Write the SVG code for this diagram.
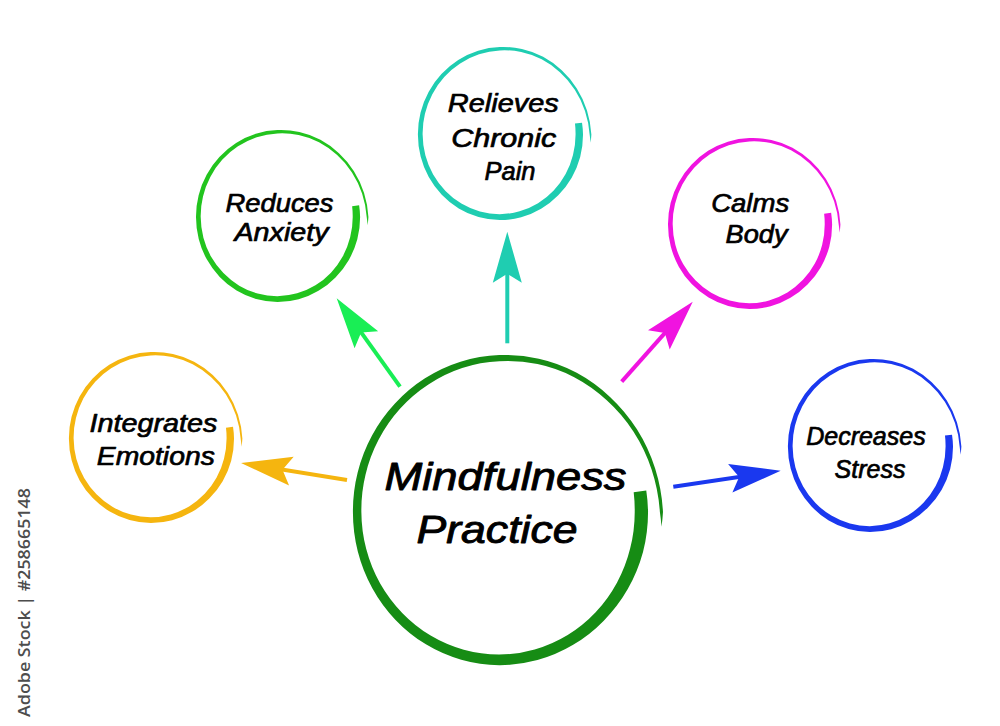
<svg xmlns="http://www.w3.org/2000/svg" width="1000" height="726" viewBox="0 0 1000 726">
<style>
.t{font-family:"Liberation Sans",Arial,sans-serif;font-style:italic;fill:#000;stroke:#000;stroke-width:0.7px;stroke-linejoin:round;}
.s{font-size:26.5px;}
.c{font-size:38px;stroke-width:0.9px;}
.wm{font-family:"Open Sans","DejaVu Sans",sans-serif;font-size:16px;font-weight:600;fill:#4d4d4d;}
.ln{fill:none;stroke-width:4;stroke-linecap:butt;}
</style>
<defs>
<path id="ring" d="M99.3,-13.9 A100.3,100.3 0 0 1 100.5,0 A100.5,100.5 0 0 1 97.1,26 A100.4,100.4 0 0 1 86.8,50.1 A100,100 0 0 1 70.6,70.6 A99.8,99.8 0 0 1 49.9,86.3 A99.6,99.6 0 0 1 25.8,96.2 A99.5,99.5 0 0 1 0,99.5 A99.4,99.4 0 0 1 -25.7,96 A99.3,99.3 0 0 1 -49.6,86 A99.2,99.2 0 0 1 -70.1,70.1 A99.1,99.1 0 0 1 -85.8,49.5 A99,99 0 0 1 -95.6,25.6 A98.9,98.9 0 0 1 -98.9,0 A99,99 0 0 1 -95.7,-25.7 A99.2,99.2 0 0 1 -86,-49.7 A99.5,99.5 0 0 1 -70.5,-70.5 A100,100 0 0 1 -50.2,-86.9 A100.7,100.7 0 0 1 -26.2,-97.7 A101.5,101.5 0 0 1 0,-102 A102.5,102.5 0 0 1 26.7,-99.6 A103.8,103.8 0 0 1 52.3,-90.5 A105.2,105.2 0 0 1 74.8,-74.8 A106.6,106.6 0 0 1 93,-53.7 A108.2,108.2 0 0 1 105.3,-28.2 A109.8,109.8 0 0 1 110.6,0 A110.5,110.5 0 0 1 109.6,9.6 A109,109 0 0 0 108.5,0 A107.5,107.5 0 0 0 102.9,-27.6 A105.6,105.6 0 0 0 90.6,-52.3 A103.7,103.7 0 0 0 72.6,-72.6 A101.9,101.9 0 0 0 50.6,-87.6 A100.3,100.3 0 0 0 25.8,-96.1 A98.7,98.7 0 0 0 0,-98 A97.4,97.4 0 0 0 -25.1,-93.6 A96.3,96.3 0 0 0 -47.9,-82.9 A95.3,95.3 0 0 0 -67.1,-67.1 A94.5,94.5 0 0 0 -81.5,-47.1 A93.8,93.8 0 0 0 -90.4,-24.2 A93.4,93.4 0 0 0 -93.2,0 A93.1,93.1 0 0 0 -89.9,24.1 A93,93 0 0 0 -80.5,46.5 A92.9,92.9 0 0 0 -65.6,65.6 A92.8,92.8 0 0 0 -46.4,80.3 A92.7,92.7 0 0 0 -24,89.5 A92.6,92.6 0 0 0 0,92.6 A92.5,92.5 0 0 0 23.9,89.3 A92.4,92.4 0 0 0 46.2,79.9 A92.2,92.2 0 0 0 65.1,65.1 A92,92 0 0 0 79.5,45.9 A91.7,91.7 0 0 0 88.4,23.7 A91.5,91.5 0 0 0 91.5,0 A91.6,91.6 0 0 0 90.8,-12.8 Z"/>
<marker id="hOr" markerUnits="userSpaceOnUse" viewBox="-45 -16 60 32" markerWidth="60" markerHeight="32" refX="0" refY="0" orient="auto" overflow="visible"><path d="M10,0 L-41,-14.5 L-32,0 L-41,14.5 Z" fill="#F5B50F"/></marker>
<marker id="hGr" markerUnits="userSpaceOnUse" viewBox="-45 -16 60 32" markerWidth="60" markerHeight="32" refX="0" refY="0" orient="auto" overflow="visible"><path d="M10,0 L-41,-14.5 L-32,0 L-41,14.5 Z" fill="#19EE55"/></marker>
<marker id="hTe" markerUnits="userSpaceOnUse" viewBox="-45 -16 60 32" markerWidth="60" markerHeight="32" refX="0" refY="0" orient="auto" overflow="visible"><path d="M10,0 L-41,-14.5 L-32,0 L-41,14.5 Z" fill="#1FCDB1"/></marker>
<marker id="hMa" markerUnits="userSpaceOnUse" viewBox="-45 -16 60 32" markerWidth="60" markerHeight="32" refX="0" refY="0" orient="auto" overflow="visible"><path d="M10,0 L-41,-14.5 L-32,0 L-41,14.5 Z" fill="#F013E0"/></marker>
<marker id="hBl" markerUnits="userSpaceOnUse" viewBox="-45 -16 60 32" markerWidth="60" markerHeight="32" refX="0" refY="0" orient="auto" overflow="visible"><path d="M10,0 L-41,-14.5 L-32,0 L-41,14.5 Z" fill="#1A38EF"/></marker>
</defs>
<rect width="1000" height="726" fill="#fff"/>

<g id="connectors">
<line class="ln" stroke="#F5B50F" x1="347" y1="480" x2="250.9" y2="464.6" marker-end="url(#hOr)"/>
<line class="ln" stroke="#19EE55" x1="400" y1="386.7" x2="342.5" y2="306.4" marker-end="url(#hGr)"/>
<line class="ln" stroke="#1FCDB1" x1="507.3" y1="343.3" x2="507.3" y2="241.7" marker-end="url(#hTe)"/>
<line class="ln" stroke="#F013E0" x1="621.7" y1="381.7" x2="686.1" y2="309.2" marker-end="url(#hMa)"/>
<line class="ln" stroke="#1A38EF" x1="673.3" y1="486.7" x2="770.8" y2="472.2" marker-end="url(#hBl)"/>
</g>

<g id="node-center">
<use href="#ring" fill="#168C14" transform="translate(499.3,512) scale(1.48,1.539)"/>
<text class="t c" x="384.5" y="489.5" textLength="242" lengthAdjust="spacingAndGlyphs">Mindfulness</text>
<text class="t c" x="416.5" y="543" textLength="161" lengthAdjust="spacingAndGlyphs">Practice</text>
</g>

<g id="node-integrates">
<use href="#ring" fill="#F5B50F" transform="translate(150.8,438.6) scale(.828,.849)"/>
<text class="t s" x="89.5" y="431.7" textLength="128" lengthAdjust="spacingAndGlyphs">Integrates</text>
<text class="t s" x="96.8" y="465" textLength="118" lengthAdjust="spacingAndGlyphs">Emotions</text>
</g>

<g id="node-reduces">
<use href="#ring" fill="#22C41E" transform="translate(277.4,217.1) scale(.823,.854)"/>
<text class="t s" x="225.5" y="211.7" textLength="108" lengthAdjust="spacingAndGlyphs">Reduces</text>
<text class="t s" x="234.5" y="241" textLength="94" lengthAdjust="spacingAndGlyphs">Anxiety</text>
</g>

<g id="node-relieves">
<use href="#ring" fill="#1FCDB1" transform="translate(499.8,134.6) scale(.828,.859)"/>
<text class="t s" x="447.8" y="111.7" textLength="111" lengthAdjust="spacingAndGlyphs">Relieves</text>
<text class="t s" x="451.2" y="146.7" textLength="105" lengthAdjust="spacingAndGlyphs">Chronic</text>
<text class="t s" x="484.5" y="180" textLength="51" lengthAdjust="spacingAndGlyphs">Pain</text>
</g>

<g id="node-calms">
<use href="#ring" fill="#F013E0" transform="translate(749.4,224.6) scale(.823,.849)"/>
<text class="t s" x="711.2" y="211.7" textLength="78" lengthAdjust="spacingAndGlyphs">Calms</text>
<text class="t s" x="725.5" y="242.7" textLength="62" lengthAdjust="spacingAndGlyphs">Body</text>
</g>

<g id="node-decreases">
<use href="#ring" fill="#1A38EF" transform="translate(869.8,446.6) scale(.828,.859)"/>
<text class="t" style="font-size:25px" x="806.2" y="445" textLength="119.5" lengthAdjust="spacingAndGlyphs">Decreases</text>
<text class="t" style="font-size:25px" x="834.5" y="477.7" textLength="71" lengthAdjust="spacingAndGlyphs">Stress</text>
</g>

<text class="wm" transform="translate(30,717) rotate(-90)" textLength="229" lengthAdjust="spacingAndGlyphs">Adobe Stock | #258665148</text>
</svg>
